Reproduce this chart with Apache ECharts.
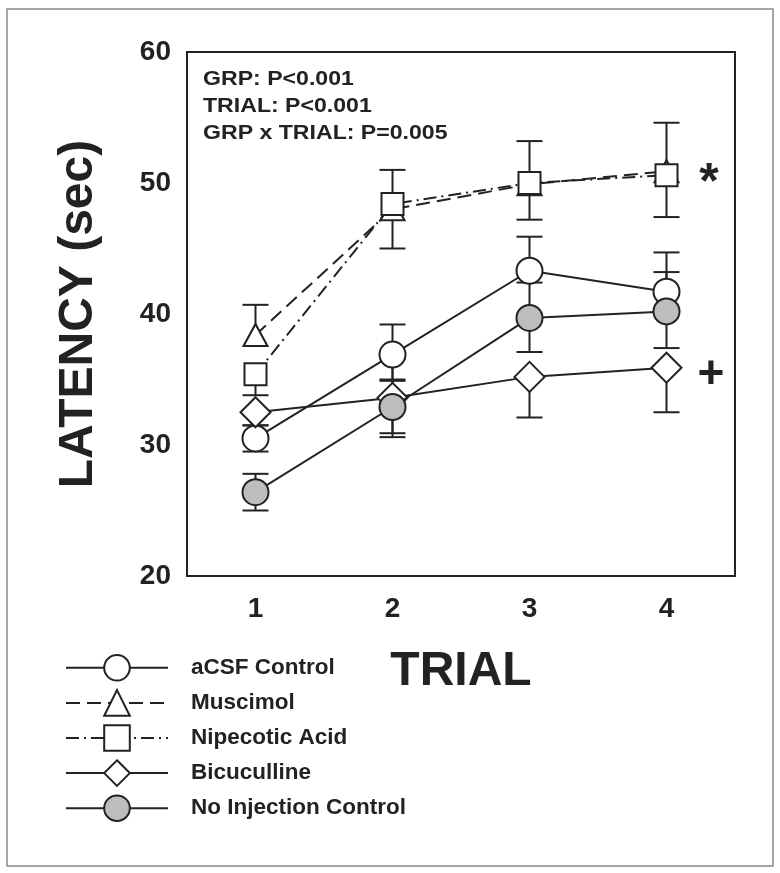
<!DOCTYPE html>
<html>
<head>
<meta charset="utf-8">
<script src="https://cdn.jsdelivr.net/npm/echarts@6/dist/echarts.min.js"></script>
<style>
  html, body { margin: 0; padding: 0; background: #fff; }
  #chart { width: 780px; height: 873px; }
</style>
</head>
<body>
<div id="chart"></div>
<script>
// ---- data ----
const trials = ['1', '2', '3', '4'];
const yTicks = [20, 30, 40, 50, 60];

// means, and the error-bar extents drawn above / below each mean (0 = not drawn)
const aCSF = [30.5, 36.9, 43.3, 41.7];
const aCSFUp = [1.0, 2.3, 2.6, 3.0];
const aCSFDown = [1.0, 1.9, 0, 0];

const muscimol = [38.4, 48.0, 49.9, 50.9];
const muscimolUp = [2.3, 3.0, 3.3, 3.7];
const muscimolDown = [0, 3.0, 2.7, 3.5];

const nipecotic = [35.4, 48.4, 50.0, 50.6];
const nipecoticUp = [0, 0, 0, 0];
const nipecoticDown = [1.6, 0, 0, 0];

const bicuculline = [32.5, 33.6, 35.2, 35.9];
const bicucullineUp = [0, 3.0, 0, 0];
const bicucullineDown = [1.0, 3.0, 3.1, 3.4];

const noInjection = [26.4, 32.9, 39.7, 40.2];
const noInjectionUp = [1.4, 2.0, 2.7, 3.0];
const noInjectionDown = [1.4, 2.0, 2.6, 2.8];

const groupNames = ['aCSF Control', 'Muscimol', 'Nipecotic Acid', 'Bicuculline', 'No Injection Control'];
const statLines = ['GRP: P<0.001', 'TRIAL: P<0.001', 'GRP x TRIAL: P=0.005'];
const markStar = '*';
const markPlus = '+';
const xTitle = 'TRIAL';
const yTitle = 'LATENCY (sec)';

// ---- styling ----
const INK = '#222';
const FONT = "'Liberation Sans', Arial, Helvetica, sans-serif";

const groups = [
  { name: groupNames[0], vals: aCSF, up: aCSFUp, down: aCSFDown, symbol: 'circle', size: 26, fill: '#fff', dash: 'solid' },
  { name: groupNames[1], vals: muscimol, up: muscimolUp, down: muscimolDown, symbol: 'triangle', size: [24, 22], fill: '#fff', dash: [14, 7] },
  { name: groupNames[2], vals: nipecotic, up: nipecoticUp, down: nipecoticDown, symbol: 'rect', size: 22, fill: '#fff', dash: [13, 5, 2, 5] },
  { name: groupNames[3], vals: bicuculline, up: bicucullineUp, down: bicucullineDown, symbol: 'diamond', size: [30, 30], fill: '#fff', dash: 'solid' },
  { name: groupNames[4], vals: noInjection, up: noInjectionUp, down: noInjectionDown, symbol: 'circle', size: 26, fill: '#bdbdbd', dash: 'solid' }
];

function renderErr(params, api) {
  const x = api.value(0), v = api.value(1), eu = api.value(2), ed = api.value(3);
  const mid = api.coord([x, v]);
  const hw = 13;
  const st = { stroke: INK, lineWidth: 2 };
  const children = [];
  if (eu > 0) {
    const top = api.coord([x, v + eu]);
    children.push({ type: 'line', shape: { x1: mid[0], y1: mid[1], x2: top[0], y2: top[1] }, style: st });
    children.push({ type: 'line', shape: { x1: top[0] - hw, y1: top[1], x2: top[0] + hw, y2: top[1] }, style: st });
  }
  if (ed > 0) {
    const bot = api.coord([x, v - ed]);
    children.push({ type: 'line', shape: { x1: mid[0], y1: mid[1], x2: bot[0], y2: bot[1] }, style: st });
    children.push({ type: 'line', shape: { x1: bot[0] - hw, y1: bot[1], x2: bot[0] + hw, y2: bot[1] }, style: st });
  }
  return { type: 'group', children: children };
}

const series = [];
groups.forEach((g) => {
  series.push({
    name: g.name + ' SEM',
    type: 'custom',
    renderItem: renderErr,
    data: g.vals.map((v, i) => [i, v, g.up[i], g.down[i]]),
    encode: { x: 0, y: 1 },
    z: 1,
    silent: true
  });
});
groups.forEach((g, gi) => {
  series.push({
    name: g.name,
    type: 'line',
    data: g.vals,
    symbol: g.symbol,
    symbolSize: g.size,
    showAllSymbol: true,
    lineStyle: { color: INK, width: 2, type: g.dash },
    itemStyle: { color: g.fill, borderColor: INK, borderWidth: 2 },
    z: 5 + gi,
    silent: true
  });
});

const chart = echarts.init(document.getElementById('chart'), null, { renderer: 'canvas' });
chart.setOption({
  animation: false,
  backgroundColor: '#fff',
  textStyle: { fontFamily: FONT },
  grid: {
    left: 187, right: 45, top: 52, bottom: 297,
    show: true, borderColor: INK, borderWidth: 2, backgroundColor: 'transparent'
  },
  xAxis: {
    type: 'category',
    data: trials,
    boundaryGap: true,
    name: xTitle,
    nameLocation: 'middle',
    nameGap: 72,
    nameTextStyle: { fontSize: 48, fontWeight: 'bold', color: INK, fontFamily: FONT },
    axisLine: { lineStyle: { color: INK, width: 2 } },
    axisTick: { inside: true, alignWithLabel: true, length: 12, lineStyle: { color: INK, width: 2 } },
    axisLabel: { fontSize: 28, fontWeight: 'bold', color: INK, margin: 19, fontFamily: FONT },
    splitLine: { show: false }
  },
  yAxis: {
    type: 'value',
    min: yTicks[0],
    max: yTicks[yTicks.length - 1],
    interval: 10,
    name: yTitle,
    nameLocation: 'middle',
    nameGap: 84,
    nameTextStyle: { fontSize: 48, fontWeight: 'bold', color: INK, fontFamily: FONT },
    axisLine: { show: true, lineStyle: { color: INK, width: 2 } },
    axisTick: { inside: true, length: 12, lineStyle: { color: INK, width: 2 } },
    axisLabel: { fontSize: 28, fontWeight: 'bold', color: INK, margin: 16, fontFamily: FONT },
    splitLine: { show: false }
  },
  legend: {
    data: groupNames,
    orient: 'vertical',
    left: 60,
    top: 649,
    itemWidth: 102,
    itemHeight: 32,
    itemGap: 7.5,
    selectedMode: false,
    textStyle: { fontSize: 22.5, fontWeight: 'bold', color: INK, fontFamily: FONT, padding: [0, 0, 0, 18] }
  },
  graphic: [
    {
      type: 'rect',
      shape: { x: 7, y: 9, width: 766, height: 857 },
      style: { fill: 'none', stroke: '#8a8a8a', lineWidth: 1.5 },
      silent: true, z: 0
    },
    {
      type: 'text',
      x: 203, y: 66,
      scaleX: 1.1,
      style: {
        text: statLines.join('\n'),
        font: "bold 21px 'Liberation Sans', Arial, sans-serif",
        lineHeight: 27,
        fill: INK, verticalAlign: 'top'
      },
      z: 20
    },
    {
      type: 'text',
      x: 709, y: 184,
      style: {
        text: markStar,
        font: "bold 50px 'Liberation Sans', Arial, sans-serif",
        fill: INK, align: 'center', verticalAlign: 'middle'
      },
      z: 20
    },
    {
      type: 'text',
      x: 711, y: 375,
      style: {
        text: markPlus,
        font: "bold 46px 'Liberation Sans', Arial, sans-serif",
        fill: INK, align: 'center', verticalAlign: 'middle'
      },
      z: 20
    }
  ],
  series: series
});
</script>
</body>
</html>
